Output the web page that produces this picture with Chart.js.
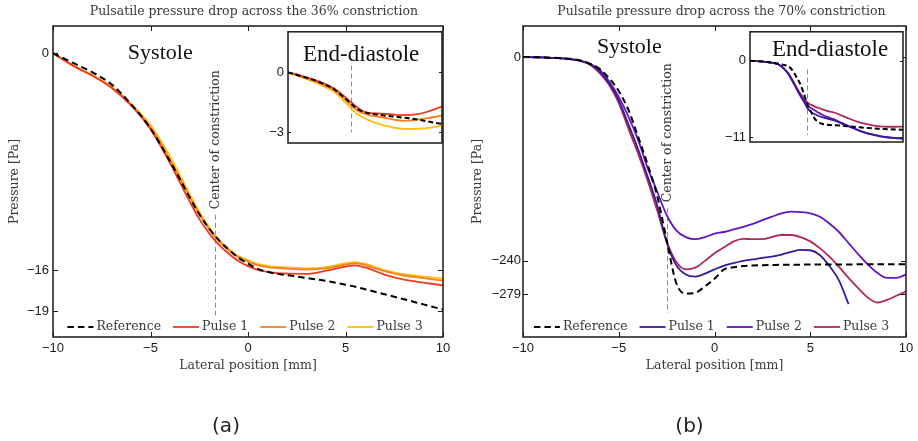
<!DOCTYPE html>
<html>
<head>
<meta charset="utf-8">
<script src="https://cdn.jsdelivr.net/npm/chart.js@4.4.1/dist/chart.umd.min.js"></script>
<style>
  html, body { margin: 0; padding: 0; background: #fff; }
  #wrap { position: relative; width: 918px; height: 441px; overflow: hidden; }
  canvas { position: absolute; }
</style>
</head>
<body>
<div id="wrap">
  <canvas id="mainA" width="460" height="441" style="left:0;top:0;width:460px;height:441px"></canvas>
  <canvas id="insetA" width="200" height="135" style="left:250px;top:20px;width:200px;height:135px"></canvas>
  <canvas id="mainB" width="458" height="441" style="left:460px;top:0;width:458px;height:441px"></canvas>
  <canvas id="insetB" width="200" height="135" style="left:710px;top:20px;width:200px;height:135px"></canvas>
</div>
<script>
  'use strict';

  // ---- data: (a) 36% constriction, systole ----
  const xA = [-10, -9, -8, -7, -6, -5, -4, -3.5, -3, -2.5, -2, -1.5, -1, -0.5, 0, 0.5, 1, 1.5, 2, 3, 4, 5, 5.5, 6, 7, 8, 9, 10];
  const refA = [0, -0.7, -1.4, -2.3, -3.75, -5.55, -7.95, -9.25, -10.6, -11.85, -12.9, -13.75, -14.45, -15.05, -15.5, -15.88, -16.1, -16.25, -16.35, -16.55, -16.77, -17.05, -17.2, -17.38, -17.75, -18.12, -18.5, -18.88];
  const pulse1A = [0, -0.9, -1.65, -2.55, -3.85, -5.6, -8.1, -9.5, -10.9, -12.2, -13.25, -14.1, -14.75, -15.3, -15.68, -15.95, -16.1, -16.2, -16.24, -16.25, -16.02, -15.72, -15.63, -15.78, -16.3, -16.68, -16.9, -17.1];
  const pulse2A = [0, -0.9, -1.63, -2.52, -3.8, -5.45, -7.85, -9.2, -10.55, -11.85, -12.95, -13.85, -14.5, -15.0, -15.35, -15.62, -15.75, -15.82, -15.87, -15.93, -15.85, -15.57, -15.48, -15.6, -16.05, -16.38, -16.57, -16.75];
  const pulse3A = [0, -0.9, -1.6, -2.48, -3.72, -5.3, -7.6, -8.95, -10.35, -11.65, -12.8, -13.72, -14.4, -14.93, -15.25, -15.52, -15.66, -15.73, -15.78, -15.85, -15.75, -15.47, -15.38, -15.5, -15.97, -16.28, -16.45, -16.6];
  const yTicksA = [0, -16, -19];

  // (a) end-diastole inset
  const xAi = [-10, -8, -6, -4, -3, -2, -1, 0, 1, 2, 3, 4, 5, 6, 7, 8, 9, 10];
  const refAi = [0, -0.22, -0.48, -0.85, -1.17, -1.5, -1.82, -2.0, -2.08, -2.13, -2.18, -2.22, -2.26, -2.31, -2.37, -2.44, -2.51, -2.58];
  const pulse1Ai = [0, -0.2, -0.45, -0.8, -1.1, -1.43, -1.75, -1.98, -2.04, -2.06, -2.08, -2.12, -2.14, -2.12, -2.07, -1.98, -1.85, -1.7];
  const pulse2Ai = [0, -0.25, -0.52, -0.88, -1.2, -1.57, -1.9, -2.08, -2.17, -2.23, -2.3, -2.38, -2.42, -2.4, -2.35, -2.3, -2.23, -2.15];
  const pulse3Ai = [0, -0.27, -0.58, -0.98, -1.33, -1.72, -2.08, -2.3, -2.47, -2.6, -2.7, -2.78, -2.82, -2.83, -2.81, -2.79, -2.73, -2.66];
  const yTicksAi = [0, -3];

  // ---- data: (b) 70% constriction, systole ----
  const xB = [-10, -9, -8, -7, -6.5, -6, -5.5, -5, -4.5, -4, -3.5, -3, -2.5, -2, -1.5, -1, -0.5, 0, 0.5, 1, 1.5, 2, 2.5, 3, 3.5, 4, 4.5, 5, 5.5, 6, 6.5, 7, 7.5, 8, 8.5, 9, 9.5, 10];
  const refB = [0, -0.5, -1.5, -4, -8, -14, -25, -40, -62, -93, -126, -163, -215, -266, -278.5, -277.5, -270, -261, -250, -247.5, -246, -245.3, -245, -244.8, -244.6, -244.5, -244.4, -244.3, -244.3, -244.2, -244.2, -244.2, -244.1, -244.1, -244.1, -244, -244, -244];
  const pulse1B = [0, -0.5, -1.5, -4.5, -8.5, -17, -31, -51, -79, -108, -140, -174, -218, -245, -256, -258.5, -255, -250, -245.5, -242.5, -240, -238.3, -236.5, -235, -232.5, -229.5, -227, -227.5, -233, -246, -263, -291, null, null, null, null, null, null];
  const pulse2B = [0, -0.5, -1.5, -4.5, -8, -15, -29, -47, -70, -97, -130, -158, -186, -204, -212, -214.5, -212, -208, -206, -203, -200, -196.5, -192, -188, -184, -182, -182.5, -184, -188, -196, -206, -219, -232, -244, -254, -260, -260, -256];
  const pulse3B = [0, -0.5, -1.5, -4.5, -9, -19, -33, -54, -84, -113, -145, -180, -217, -241, -250, -248, -240, -231, -224, -217, -214, -214.5, -214.5, -212, -209.5, -209.5, -212, -217, -225, -235, -247, -260, -272, -283, -289, -286, -281, -276];
  const yTicksB = [0, -240, -279];

  // (b) end-diastole inset
  const xBi = [-10, -9, -8, -7, -6, -5, -4.5, -4, -3.5, -3, -2.5, -2, -1.5, -1, -0.5, 0, 1, 2, 3, 4, 5, 6, 7, 8, 9, 10];
  const refBi = [0, -0.05, -0.15, -0.25, -0.5, -0.8, -1.3, -2.2, -3.2, -4.6, -6.2, -7.4, -8.4, -8.85, -9.1, -9.22, -9.28, -9.35, -9.45, -9.55, -9.65, -9.72, -9.8, -9.85, -9.9, -9.93];
  const pulse1Bi = [0, -0.05, -0.15, -0.3, -0.7, -1.85, -2.8, -3.85, -4.9, -5.8, -6.8, -7.4, -7.7, -7.95, -8.15, -8.3, -8.6, -9.05, -9.5, -9.95, -10.35, -10.65, -10.9, -11.05, -11.15, -11.25];
  const pulse2Bi = [0, -0.05, -0.15, -0.3, -0.7, -1.85, -2.8, -3.8, -4.8, -5.6, -6.4, -6.85, -7.15, -7.5, -7.8, -8.05, -8.45, -8.95, -9.45, -9.9, -10.3, -10.6, -10.85, -11.0, -11.1, -11.15];
  const pulse3Bi = [0, -0.05, -0.15, -0.3, -0.7, -1.8, -2.7, -3.65, -4.6, -5.3, -6.0, -6.35, -6.6, -6.8, -7.0, -7.2, -7.45, -7.9, -8.35, -8.75, -9.05, -9.3, -9.45, -9.5, -9.5, -9.47];
  const yTicksBi = [0, -11];

  const xTicks = [-10, -5, 0, 5, 10];
  const seriesLabels = ['Reference', 'Pulse 1', 'Pulse 2', 'Pulse 3'];

  const SERIF = '"DejaVu Serif", "Liberation Serif", serif';
  const BIG_SERIF = '"Liberation Serif", "Times New Roman", serif';
  const SANS = '"Liberation Sans", Arial, sans-serif';
  const SMALL = 12.5;

  const COLORS = {
    reference: '#000000',
    a: ['#ee3a1d', '#f5801f', '#fdc010'],
    b: ['#3b1a98', '#6514c2', '#b0285e'],
    guide: '#8c8c8c',
    text: '#3a3a3a',
    axis: '#1a1a1a'
  };

  const minus = (v) => String(v).replace('-', '\u2212');

  function series(label, xs, ys, color, dash) {
    return {
      label: label,
      data: xs.map((x, i) => ({ x: x, y: ys[i] })),
      borderColor: color,
      borderWidth: dash ? 2 : 1.8,
      borderDash: dash || [],
      pointRadius: 0,
      fill: false,
      cubicInterpolationMode: 'monotone',
      spanGaps: false
    };
  }

  function datasets(xs, ref, p1, p2, p3, colors, dash) {
    return [
      series(seriesLabels[0], xs, ref, COLORS.reference, dash),
      series(seriesLabels[1], xs, p1, colors[0]),
      series(seriesLabels[2], xs, p2, colors[1]),
      series(seriesLabels[3], xs, p3, colors[2])
    ];
  }

  /**
   * Box, inward ticks, labels, guide line and legend (MATLAB look).
   */
  const panelDecor = {
    id: 'panelDecor',
    beforeDraw(chart, args, o) {
      if (!o.whiteBg) return;
      const a = chart.chartArea;
      const ctx = chart.ctx;
      ctx.save();
      ctx.fillStyle = '#fff';
      ctx.fillRect(a.left, a.top, a.right - a.left, a.bottom - a.top);
      ctx.restore();
    },
    beforeDatasetsDraw(chart, args, o) {
      const g = o.guide;
      if (!g) return;
      const { ctx, scales: { x, y } } = chart;
      const px = Math.round(x.getPixelForValue(g.x)) + 0.5;
      ctx.save();
      ctx.strokeStyle = COLORS.guide;
      ctx.lineWidth = 1;
      ctx.setLineDash([5, 3]);
      ctx.beginPath();
      ctx.moveTo(px, y.getPixelForValue(g.from));
      ctx.lineTo(px, y.getPixelForValue(g.to));
      ctx.stroke();
      if (g.text) {
        ctx.setLineDash([]);
        ctx.translate(px, y.getPixelForValue(g.textFrom));
        ctx.rotate(-Math.PI / 2);
        ctx.font = SMALL + 'px ' + SERIF;
        ctx.fillStyle = COLORS.text;
        ctx.textAlign = 'left';
        ctx.textBaseline = 'middle';
        ctx.fillText(g.text, 0, 0);
      }
      ctx.restore();
    },
    afterDatasetsDraw(chart, args, o) {
      const { ctx, chartArea: a, scales: { x, y } } = chart;
      ctx.save();

      // frame
      ctx.strokeStyle = COLORS.axis;
      ctx.lineWidth = 1.5;
      ctx.setLineDash([]);
      ctx.strokeRect(a.left, a.top, a.right - a.left, a.bottom - a.top);

      // inward ticks
      const tl = o.tickLen;
      ctx.lineWidth = 1;
      ctx.beginPath();
      if (o.xTicks) {
        x.ticks.forEach((t) => {
          const px = Math.round(x.getPixelForValue(t.value)) + 0.5;
          ctx.moveTo(px, a.bottom); ctx.lineTo(px, a.bottom - tl);
          ctx.moveTo(px, a.top); ctx.lineTo(px, a.top + tl);
        });
      }
      y.ticks.forEach((t) => {
        const py = Math.round(y.getPixelForValue(t.value)) + 0.5;
        ctx.moveTo(a.left, py); ctx.lineTo(a.left + tl, py);
        ctx.moveTo(a.right, py); ctx.lineTo(a.right - tl, py);
      });
      ctx.stroke();

      // text labels in data space
      (o.labels || []).forEach((l) => {
        ctx.font = l.size + 'px ' + BIG_SERIF;
        ctx.fillStyle = '#111';
        ctx.textAlign = 'center';
        ctx.textBaseline = 'alphabetic';
        ctx.fillText(l.text, x.getPixelForValue(l.x), y.getPixelForValue(l.y));
      });

      // title
      if (o.title) {
        ctx.font = SMALL + 'px ' + SERIF;
        ctx.fillStyle = COLORS.text;
        ctx.textAlign = 'center';
        ctx.textBaseline = 'middle';
        ctx.fillText(o.title, (a.left + a.right) / 2 + o.titleDx, o.titleY);
      }

      // caption (a)/(b)
      if (o.caption) {
        ctx.font = '20px "DejaVu Sans", sans-serif';
        ctx.fillStyle = '#222';
        ctx.textAlign = 'center';
        ctx.textBaseline = 'middle';
        ctx.fillText(o.caption, (a.left + a.right) / 2 + o.captionDx, o.captionY);
      }

      // legend, inside the bottom of the plot
      if (o.legend) {
        const items = chart.data.datasets;
        const sample = 26, gapText = 3, gapItem = 12;
        ctx.font = SMALL + 'px ' + SERIF;
        const widths = items.map((d) => ctx.measureText(d.label).width);
        const total = widths.reduce((s, w) => s + w, 0) + items.length * (sample + gapText) + (items.length - 1) * gapItem;
        let lx = (a.left + a.right) / 2 - 3 - total / 2;
        const ly = a.bottom - 10;
        items.forEach((d, i) => {
          ctx.strokeStyle = d.borderColor;
          ctx.lineWidth = d.borderWidth;
          ctx.setLineDash(i === 0 ? [6.5, 4] : []);
          ctx.beginPath();
          ctx.moveTo(lx, ly);
          ctx.lineTo(lx + sample, ly);
          ctx.stroke();
          lx += sample + gapText;
          ctx.fillStyle = COLORS.text;
          ctx.textAlign = 'left';
          ctx.textBaseline = 'middle';
          ctx.fillText(d.label, lx, ly);
          lx += widths[i] + gapItem;
        });
      }
      ctx.restore();
    }
  };

  function mainChart(id, data, yMin, yMax, yTicks, yWidth, rightPad, yTitlePad, yTickPad, decor) {
    return new Chart(document.getElementById(id), {
      type: 'line',
      data: { datasets: data },
      plugins: [panelDecor],
      options: {
        responsive: false,
        animation: false,
        events: [],
        layout: { padding: { left: 0, right: rightPad, top: 26, bottom: 67 } },
        plugins: { legend: { display: false }, tooltip: { enabled: false }, panelDecor: decor },
        scales: {
          x: {
            type: 'linear', min: -10, max: 10,
            afterBuildTicks: (s) => { s.ticks = xTicks.map((v) => ({ value: v })); },
            afterFit: (s) => { s.height = 37; },
            grid: { display: false, drawTicks: false },
            border: { display: false },
            ticks: { font: { family: SANS, size: 13 }, color: COLORS.axis, padding: 4, maxRotation: 0, callback: minus },
            title: { display: true, text: 'Lateral position [mm]', font: { family: SERIF, size: SMALL }, color: COLORS.text, padding: { top: 0, bottom: 1 } }
          },
          y: {
            type: 'linear', min: yMin, max: yMax,
            afterBuildTicks: (s) => { s.ticks = yTicks.map((v) => ({ value: v })); },
            afterFit: (s) => { s.width = yWidth; },
            grid: { display: false, drawTicks: false },
            border: { display: false },
            ticks: { font: { family: SANS, size: 13 }, color: COLORS.axis, padding: yTickPad, callback: minus },
            title: { display: true, text: 'Pressure [Pa]', font: { family: SERIF, size: SMALL }, color: COLORS.text, padding: { top: yTitlePad, bottom: 0 } }
          }
        }
      }
    });
  }

  function insetChart(id, data, yMin, yMax, yTicks, yWidth, pad, decor) {
    return new Chart(document.getElementById(id), {
      type: 'line',
      data: { datasets: data },
      plugins: [panelDecor],
      options: {
        responsive: false,
        animation: false,
        events: [],
        layout: { padding: pad },
        plugins: { legend: { display: false }, tooltip: { enabled: false }, panelDecor: decor },
        scales: {
          x: { type: 'linear', min: -10, max: 10, display: false },
          y: {
            type: 'linear', min: yMin, max: yMax,
            afterBuildTicks: (s) => { s.ticks = yTicks.map((v) => ({ value: v })); },
            afterFit: (s) => { s.width = yWidth; },
            grid: { display: false, drawTicks: false },
            border: { display: false },
            ticks: { font: { family: SANS, size: 13 }, color: COLORS.axis, padding: 4, callback: minus }
          }
        }
      }
    });
  }

  // (a)
  mainChart('mainA', datasets(xA, refA, pulse1A, pulse2A, pulse3A, COLORS.a, [6.5, 4]),
    -20.9, 2, yTicksA, 53, 17, 7, 4, {
      tickLen: 5, xTicks: true, legend: true,
      title: 'Pulsatile pressure drop across the 36% constriction', titleDx: 6, titleY: 12,
      caption: '(a)', captionDx: -22, captionY: 427,
      labels: [{ text: 'Systole', x: -4.5, y: -0.44, size: 22 }],
      guide: { x: -1.7, from: -11.9, to: -19.3, text: 'Center of constriction', textFrom: -11.5 }
    });

  insetChart('insetA', datasets(xAi, refAi, pulse1Ai, pulse2Ai, pulse3Ai, COLORS.a, [5, 3]),
    -3.53, 2.03, yTicksAi, 38, { left: 0, right: 8, top: 8, bottom: 12 }, {
      whiteBg: true, tickLen: 3, xTicks: false,
      labels: [{ text: 'End-diastole', x: -0.5, y: 0.56, size: 23 }],
      guide: { x: -1.8, from: 0.34, to: -3.0 }
    });

  // (b)
  mainChart('mainB', datasets(xB, refB, pulse1B, pulse2B, pulse3B, COLORS.b, [6.5, 4]),
    -329.6, 36.5, yTicksB, 63, 12, 10, 2, {
      tickLen: 5, xTicks: true, legend: true,
      title: 'Pulsatile pressure drop across the 70% constriction', titleDx: 7, titleY: 12,
      caption: '(b)', captionDx: -25, captionY: 427,
      labels: [{ text: 'Systole', x: -4.45, y: 4.7, size: 22 }],
      guide: { x: -2.5, from: -178, to: -301, text: 'Center of constriction', textFrom: -171 }
    });

  insetChart('insetB', datasets(xBi, refBi, pulse1Bi, pulse2Bi, pulse3Bi, COLORS.b, [5, 3]),
    -11.7, 4.18, yTicksBi, 40, { left: 0, right: 7, top: 8, bottom: 13 }, {
      whiteBg: true, tickLen: 3, xTicks: false,
      labels: [{ text: 'End-diastole', x: 0.46, y: 0.7, size: 23 }],
      guide: { x: -2.5, from: -1.25, to: -10.7 }
    });
</script>
</body>
</html>
